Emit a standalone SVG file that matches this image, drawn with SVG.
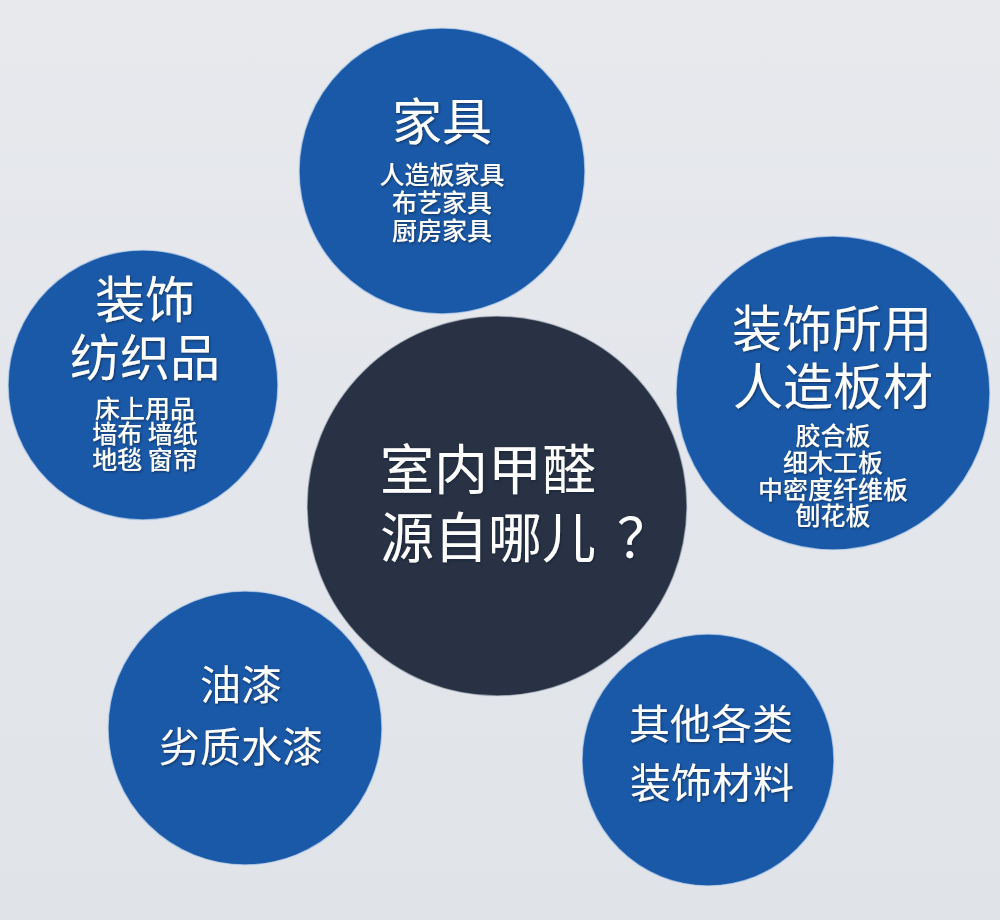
<svg xmlns="http://www.w3.org/2000/svg" width="1000" height="920" viewBox="0 0 1000 920">
  <defs>
    <linearGradient id="bg" x1="0" y1="0" x2="0" y2="1">
      <stop offset="0" stop-color="#e7e9ed"/>
      <stop offset="1" stop-color="#e0e3e8"/>
    </linearGradient>
    <filter id="ts" x="-10%" y="-20%" width="120%" height="140%">
      <feDropShadow dx="1" dy="1.2" stdDeviation="0.8" flood-color="#071a36" flood-opacity="0.6"/>
    </filter>
    <style>
      .blue { fill: #1a59a8; stroke: #c9daf0; stroke-opacity: 0.7; stroke-width: 1.5; }
      .dark { fill: #283244; stroke: #c9d0dc; stroke-opacity: 0.6; stroke-width: 1.5; }
      text { font-family: "Noto Sans CJK SC", "Noto Sans", sans-serif; fill: #ffffff; filter: url(#ts); }
      .c { text-anchor: middle; }
      .big { font-size: 50px; font-weight: 400; }
      .mid { font-size: 41px; font-weight: 400; }
      .sm { font-size: 25px; font-weight: 500; }
      .ctr { font-size: 54px; font-weight: 400; }
    </style>
  </defs>
  <rect x="0" y="0" width="1000" height="920" fill="url(#bg)"/>
  <g id="connectors"/>

  <g id="node-furniture">
    <circle class="blue" cx="442" cy="171" r="143"/>
    <text class="c big" x="442" y="140">家具</text>
    <text class="c sm"><tspan x="442" y="184">人造板家具</tspan><tspan x="442" y="212">布艺家具</tspan><tspan x="442" y="240">厨房家具</tspan></text>
  </g>

  <g id="node-textiles">
    <circle class="blue" cx="143" cy="385" r="135"/>
    <text class="c big"><tspan x="145" y="318">装饰</tspan><tspan x="145" y="376">纺织品</tspan></text>
    <text class="c sm"><tspan x="145" y="418">床上用品</tspan><tspan x="145" y="443">墙布 墙纸</tspan><tspan x="145" y="469">地毯 窗帘</tspan></text>
  </g>

  <g id="node-boards">
    <circle class="blue" cx="833" cy="393" r="157"/>
    <text class="c big"><tspan x="832" y="347">装饰所用</tspan><tspan x="833" y="405">人造板材</tspan></text>
    <text class="c sm"><tspan x="833" y="445">胶合板</tspan><tspan x="833" y="472">细木工板</tspan><tspan x="833" y="499">中密度纤维板</tspan><tspan x="833" y="525">刨花板</tspan></text>
  </g>

  <g id="node-center">
    <circle class="dark" cx="497" cy="506" r="190"/>
    <text class="ctr"><tspan x="380" y="490">室内甲醛</tspan><tspan x="380" y="558">源自哪儿</tspan><tspan x="617" y="558">？</tspan></text>
  </g>

  <g id="node-paint">
    <circle class="blue" cx="245" cy="728" r="137"/>
    <text class="c mid"><tspan x="241" y="700">油漆</tspan><tspan x="241" y="762">劣质水漆</tspan></text>
  </g>

  <g id="node-other">
    <circle class="blue" cx="708" cy="760" r="126"/>
    <text class="c mid"><tspan x="711" y="739">其他各类</tspan><tspan x="712" y="798">装饰材料</tspan></text>
  </g>
</svg>
